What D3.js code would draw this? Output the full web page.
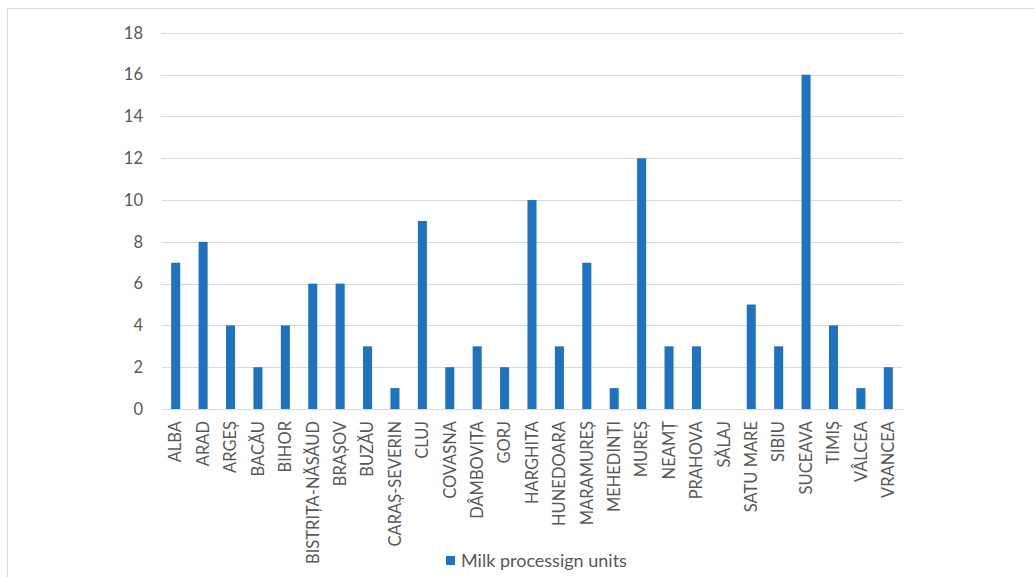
<!DOCTYPE html>
<html><head><meta charset="utf-8">
<script src="https://cdn.jsdelivr.net/npm/d3@7"></script>
<style>body{margin:0;background:#fff;} svg{display:block;}</style>
</head><body>
<svg id="c" width="1034" height="577"></svg>
<script>
const categories = ["ALBA","ARAD","ARGEȘ","BACĂU","BIHOR","BISTRIȚA-NĂSĂUD","BRAȘOV","BUZĂU","CARAȘ-SEVERIN","CLUJ","COVASNA","DÂMBOVIȚA","GORJ","HARGHITA","HUNEDOARA","MARAMUREȘ","MEHEDINȚI","MUREȘ","NEAMȚ","PRAHOVA","SĂLAJ","SATU MARE","SIBIU","SUCEAVA","TIMIȘ","VÂLCEA","VRANCEA"];
const values = [7,8,4,2,4,6,6,3,1,9,2,3,2,10,3,7,1,12,3,3,0,5,3,16,4,1,2];
const yTicks = [0,2,4,6,8,10,12,14,16,18];
const seriesName = "Milk processign units";

(function(){
const svg = d3.select("#c");
const font = "Lato, 'Open Sans', sans-serif";
const grey = "#595959";

// outer chart border
svg.append("rect").attr("x",7.5).attr("y",8.5).attr("width",1040).attr("height",600)
  .attr("fill","none").attr("stroke","#d9d9d9").attr("stroke-width",1);

const pL = 162, pR = 902, pT = 32.9, pB = 409;
const x = d3.scaleBand().domain(categories).range([pL,pR]).paddingInner(0.67).paddingOuter(0.335);
const y = d3.scaleLinear().domain([0,18]).range([pB,pT]);

// gridlines
svg.append("g").selectAll("line").data(yTicks).join("line")
  .attr("x1",pL).attr("x2",pR)
  .attr("y1",d=>Math.round(y(d))+0.5).attr("y2",d=>Math.round(y(d))+0.5)
  .attr("stroke","#d9d9d9").attr("stroke-width",1);

// y axis labels
const yAxis = d3.axisLeft(y).tickValues(yTicks).tickSize(0).tickPadding(0);
const gy = svg.append("g").attr("transform",`translate(${143},0)`).call(yAxis);
gy.select(".domain").remove();
gy.selectAll("text").attr("font-family",font).attr("font-size",16.5).attr("fill",grey);

// bars
svg.append("g").selectAll("rect").data(values).join("rect")
  .attr("x",(d,i)=>x(categories[i]))
  .attr("width",x.bandwidth())
  .attr("y",d=>y(d))
  .attr("height",d=>y(0)-y(d))
  .attr("fill","#1f73be");

// x axis labels
const xAxis = d3.axisBottom(x).tickSize(0).tickPadding(0);
const gx = svg.append("g").attr("transform",`translate(0,${pB})`).call(xAxis);
gx.select(".domain").remove();
gx.selectAll("text")
  .attr("font-family",font).attr("font-size",16.5).attr("fill",grey)
  .attr("text-anchor","end")
  .attr("dy","0.35em")
  .attr("transform","translate(0,12) rotate(-90)")
  .attr("x",0).attr("y",0);

// legend
const lg = svg.append("g");
lg.append("rect").attr("x",446).attr("y",556).attr("width",9).attr("height",9).attr("fill","#1f73be");
lg.append("text").attr("x",461).attr("y",567).attr("font-family",font).attr("font-size",18)
  .attr("fill",grey).text(seriesName);
})();
</script>
</body></html>
